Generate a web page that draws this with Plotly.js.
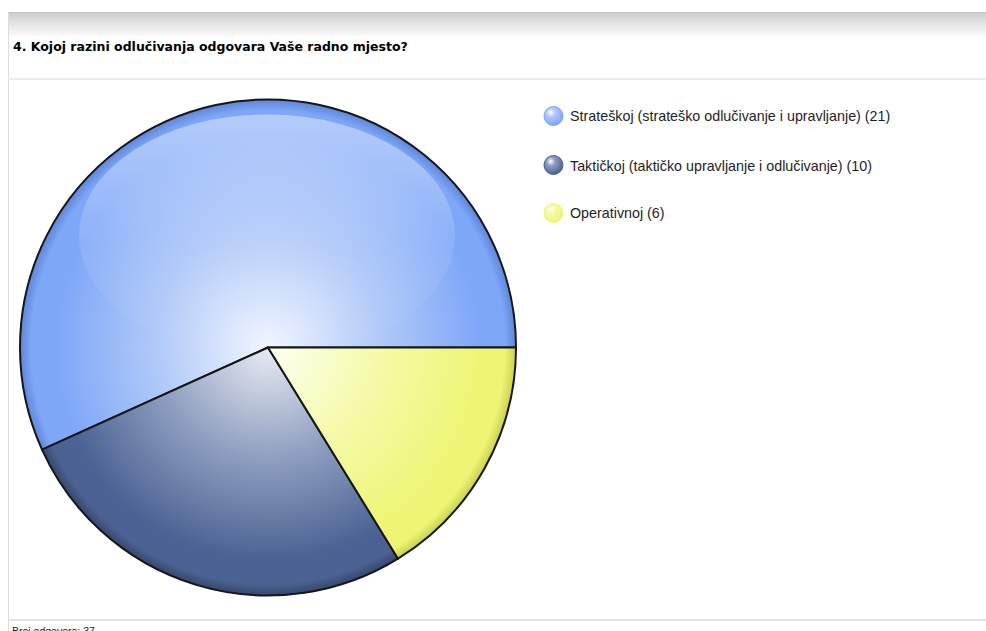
<!DOCTYPE html>
<html>
<head>
<meta charset="utf-8">
<script src="https://cdn.plot.ly/plotly-3.0.1.min.js"></script>
<style>html,body{margin:0;padding:0;background:#fff;}#chart{width:986px;height:631px;}</style>
</head>
<body>
<div id="chart"></div>
<script>
const categories = [
  "Strateškoj (strateško odlučivanje i upravljanje)",
  "Taktičkoj (taktičko upravljanje i odlučivanje)",
  "Operativnoj"
];
const counts = [21, 10, 6];
const titleText = "4. Kojoj razini odlučivanja odgovara Vaše radno mjesto?";
const footerText = "Broj odgovora: 37";

const W = 986, H = 631;
const px = x => x / W;
const py = y => 1 - y / H;

const centerColors = ["#f2f6ff", "#e8ebf1", "#fdfff2"];
const midColors = ["#b0c9f8", "#8e9ec0", "#f5faa8"];
const edgeColors = ["#7ea7f8", "#4b6292", "#eef574"];
const rimColors = ["#5f86d8", "#36476e", "#c9cf52"];

const total = counts.reduce((a, b) => a + b, 0);

const shapes = [];
// top gradient band
const bandSteps = 12;
for (let i = 0; i < bandSteps; i++) {
  const g = Math.round(208 + (47 * i) / bandSteps);
  shapes.push({type: "rect", xref: "paper", yref: "paper", layer: "below",
    x0: px(8), x1: 1, y0: py(13 + i * 2), y1: py(13 + (i + 1) * 2),
    line: {width: 0}, fillcolor: `rgb(${g},${g},${g})`});
}
shapes.push({type: "line", xref: "paper", yref: "paper", layer: "below", x0: px(8), x1: 1, y0: py(12.5), y1: py(12.5), line: {color: "#c4c4c4", width: 1}});
shapes.push({type: "line", xref: "paper", yref: "paper", layer: "below", x0: px(8.5), x1: px(8.5), y0: py(12), y1: 0, line: {color: "#dddddd", width: 1}});
shapes.push({type: "line", xref: "paper", yref: "paper", layer: "below", x0: px(8), x1: 1, y0: py(79), y1: py(79), line: {color: "#ececec", width: 2}});
shapes.push({type: "line", xref: "paper", yref: "paper", layer: "below", x0: px(8), x1: 1, y0: py(620), y1: py(620), line: {color: "#e4e4e4", width: 2}});

const annotations = [
  {text: titleText, xref: "paper", yref: "paper", x: px(11), y: py(47), xanchor: "left", yanchor: "middle",
   showarrow: false, font: {family: "DejaVu Sans, Verdana, sans-serif", size: 12.5, color: "#000", weight: "bold"}},
  {text: footerText, xref: "paper", yref: "paper", x: px(10), y: py(622.5), xanchor: "left", yanchor: "top",
   showarrow: false, font: {family: "Liberation Sans, Arial, sans-serif", size: 10.5, color: "#222"}}
];
const legendY = [116, 165, 213];
categories.forEach((c, i) => {
  annotations.push({text: `${c} (${counts[i]})`, xref: "paper", yref: "paper", x: px(568), y: py(legendY[i] + 0.5),
    xanchor: "left", yanchor: "middle", showarrow: false,
    font: {family: "Liberation Sans, Arial, sans-serif", size: 14.3, color: "#1e1e1e"}});
  shapes.push({type: "circle", xref: "paper", yref: "paper", x0: px(544), x1: px(563), y0: py(legendY[i] - 9.5), y1: py(legendY[i] + 9.5),
    fillcolor: midColors[i], line: {color: edgeColors[i], width: 1}});
});

const trace = {
  type: "pie",
  labels: categories,
  values: counts,
  sort: false,
  direction: "counterclockwise",
  rotation: 90 - 360 * counts[0] / total,
  textinfo: "none",
  hoverinfo: "label+value",
  marker: {colors: midColors, line: {color: "#161616", width: 2}},
  domain: {x: [px(20), px(516)], y: [py(596), py(99)]},
  showlegend: false
};

const layout = {
  width: W, height: H,
  margin: {l: 0, r: 0, t: 0, b: 0},
  paper_bgcolor: "#ffffff",
  showlegend: false,
  shapes: shapes,
  annotations: annotations
};

Plotly.newPlot("chart", [trace], layout, {displayModeBar: false, staticPlot: true}).then(gd => {
  try {
    const NS = "http://www.w3.org/2000/svg";
    const svg = gd.querySelector("svg.main-svg");
    let defs = svg.querySelector("defs");
    if (!defs) { defs = document.createElementNS(NS, "defs"); svg.insertBefore(defs, svg.firstChild); }
    const mk = (tag, attrs) => {
      const e = document.createElementNS(NS, tag);
      Object.keys(attrs).forEach(k => e.setAttribute(k, attrs[k]));
      return e;
    };
    const paths = gd.querySelectorAll(".pielayer path.surface");
    let cx0 = 0, cy0 = 0, R = 248;
    paths.forEach((p, i) => {
      const d = p.getAttribute("d");
      const m = /M\s*([-\d.]+)[ ,]([-\d.]+)/.exec(d);
      let cx = 0, cy = 0;
      if (m) { cx = parseFloat(m[1]); cy = parseFloat(m[2]); }
      cx0 = cx; cy0 = cy;
      const g = mk("radialGradient", {id: "pg" + i, gradientUnits: "userSpaceOnUse", cx: cx, cy: cy, r: R});
      [[0, centerColors[i]], [0.45, midColors[i]], [0.86, edgeColors[i]], [0.955, edgeColors[i]], [1, rimColors[i]]].forEach(s => {
        g.appendChild(mk("stop", {offset: s[0], "stop-color": s[1]}));
      });
      defs.appendChild(g);
      p.style.fill = "url(#pg" + i + ")";
    });
    // glossy highlight
    const lg = mk("linearGradient", {id: "gloss", x1: 0, y1: 0, x2: 0, y2: 1});
    lg.appendChild(mk("stop", {offset: 0, "stop-color": "#ffffff", "stop-opacity": 0.42}));
    lg.appendChild(mk("stop", {offset: 0.55, "stop-color": "#ffffff", "stop-opacity": 0.1}));
    lg.appendChild(mk("stop", {offset: 1, "stop-color": "#ffffff", "stop-opacity": 0}));
    defs.appendChild(lg);
    if (paths.length) {
      const parent = paths[0].parentNode;
      const ell = mk("ellipse", {cx: cx0 - 1, cy: cy0 - 112, rx: 188, ry: 121, fill: "url(#gloss)"});
      ell.style.pointerEvents = "none";
      parent.appendChild(ell);
    }
    // legend circle gradients
    const shapePaths = gd.querySelectorAll(".layer-above .shapelayer path");
    for (let i = 0; i < categories.length; i++) {
      const sp = shapePaths[i];
      if (!sp) continue;
      const g = mk("radialGradient", {id: "lg" + i, cx: 0.4, cy: 0.35, r: 0.65, fx: 0.35, fy: 0.3});
      [[0, "#ffffff"], [0.35, midColors[i]], [1, edgeColors[i]]].forEach(s => g.appendChild(mk("stop", {offset: s[0], "stop-color": s[1]})));
      defs.appendChild(g);
      sp.style.fill = "url(#lg" + i + ")";
    }
  } catch (e) {}
});
</script>
</body>
</html>
